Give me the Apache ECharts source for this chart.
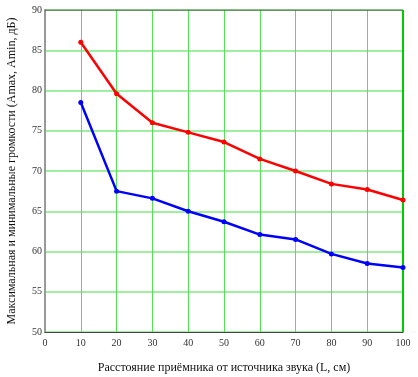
<!DOCTYPE html>
<html>
<head>
<meta charset="utf-8">
<script src="https://cdn.jsdelivr.net/npm/echarts@6/dist/echarts.min.js"></script>
<style>
  html, body { margin: 0; padding: 0; background: #fff; }
  #chart { width: 418px; height: 377px; }
</style>
</head>
<body>
<div id="chart"></div>
<script>
// расстояние, см
var distances = [10, 20, 30, 40, 50, 60, 70, 80, 90, 100];
// максимальная громкость, дБ
var amax = [86.0, 79.6, 76.0, 74.8, 73.6, 71.5, 70.0, 68.4, 67.7, 66.4];
// минимальная громкость, дБ
var amin = [78.5, 67.5, 66.6, 65.0, 63.7, 62.1, 61.5, 59.7, 58.5, 58.0];

var serif = '"Liberation Serif", "DejaVu Serif", serif';

function pairs(vals) {
  var out = [];
  for (var i = 0; i < distances.length; i++) {
    out.push([distances[i], vals[i]]);
  }
  return out;
}

var myChart = echarts.init(document.getElementById('chart'));
var option = {
  animation: false,
  grid: { left: 45, right: 15, top: 10, bottom: 45, containLabel: false, outerBoundsMode: 'none' },
  xAxis: {
    type: 'value',
    min: 0, max: 100, interval: 10,
    name: 'Расстояние приёмника от источника звука (L, см)',
    nameLocation: 'middle',
    nameGap: 30,
    nameTextStyle: { fontFamily: serif, fontSize: 12, color: '#111' },
    axisLine: { show: true, lineStyle: { color: '#444', width: 1 } },
    axisTick: { show: false },
    axisLabel: { fontFamily: serif, fontSize: 10, color: '#333', margin: 6 },
    splitLine: { show: true, lineStyle: { color: '#55e055', width: 1 } }
  },
  yAxis: {
    type: 'value',
    min: 50, max: 90, interval: 5,
    name: 'Максимальная и минимальные громкости (Amax, Amin, дБ)',
    nameLocation: 'middle',
    nameGap: 27,
    nameTextStyle: { fontFamily: serif, fontSize: 12, color: '#111' },
    axisLine: { show: true, lineStyle: { color: '#999', width: 2 } },
    axisTick: { show: false },
    axisLabel: { fontFamily: serif, fontSize: 10, color: '#333', margin: 3 },
    splitLine: { show: true, lineStyle: { color: '#80ea80', width: 1.5 } }
  },
  series: [
    {
      name: 'Amax',
      type: 'line',
      data: pairs(amax),
      color: '#ff0000',
      symbol: 'circle',
      symbolSize: 5,
      lineStyle: { width: 2.5 }
    },
    {
      name: 'Amin',
      type: 'line',
      data: pairs(amin),
      color: '#0000ff',
      symbol: 'circle',
      symbolSize: 5,
      lineStyle: { width: 2.5 }
    },
    {
      // рамка: верх тёмный, справа зелёная
      type: 'line',
      data: [[0, 90], [100, 90]],
      symbol: 'none',
      silent: true,
      lineStyle: { color: '#333', width: 1 }
    },
    {
      type: 'line',
      data: [[100, 90], [100, 50]],
      symbol: 'none',
      silent: true,
      lineStyle: { color: '#00cc00', width: 2 }
    }
  ]
};
myChart.setOption(option);
</script>
</body>
</html>
